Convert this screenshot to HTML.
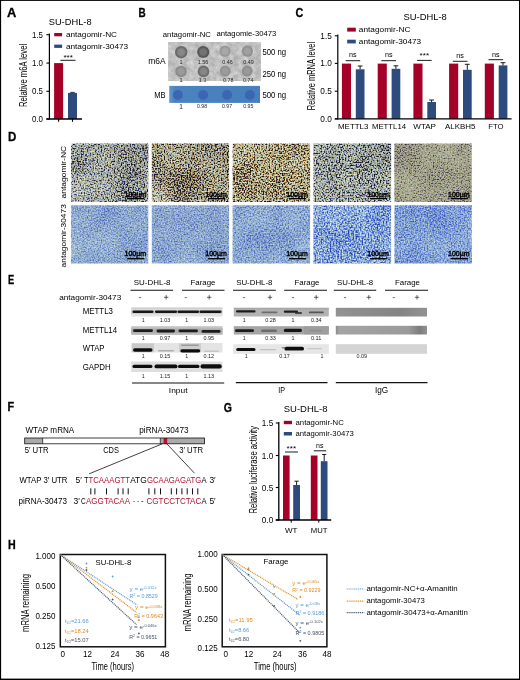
<!DOCTYPE html>
<html><head><meta charset="utf-8"><title>Figure</title>
<style>
html,body{margin:0;padding:0;background:#fff;}
body{width:520px;height:680px;overflow:hidden;}
svg{display:block;font-family:"Liberation Sans",sans-serif;}
</style></head><body>
<svg width="520" height="680" viewBox="0 0 520 680">
<defs>
<filter id="bl" x="-20%" y="-80%" width="140%" height="260%"><feGaussianBlur stdDeviation="0.75"/></filter>
<filter id="bl2" x="-20%" y="-50%" width="140%" height="200%"><feGaussianBlur stdDeviation="1.1"/></filter>
<filter id="dotb" x="-30%" y="-30%" width="160%" height="160%"><feGaussianBlur stdDeviation="0.7"/></filter>
</defs>
<rect x="0.0" y="0.0" width="520.0" height="680.0" fill="#fff"/>
<rect x="0.0" y="0.0" width="1.1" height="680.0" fill="#000"/>
<rect x="0.0" y="0.0" width="520.0" height="0.9" fill="#000"/>
<rect x="519.0" y="0.0" width="1.0" height="680.0" fill="#000"/>
<rect x="0.0" y="678.6" width="520.0" height="1.4" fill="#000"/>
<text x="6.9" y="17.0" font-size="12.1" textLength="9.3" lengthAdjust="spacingAndGlyphs" fill="#000" font-weight="bold" stroke="#000" stroke-width="0.3">A</text>
<text x="48.7" y="24.7" font-size="9.2" textLength="42.9" lengthAdjust="spacingAndGlyphs">SU-DHL-8</text>
<rect x="54.1" y="63.1" width="9.0" height="55.9" fill="#a50028"/>
<rect x="68.0" y="92.9" width="9.0" height="26.1" fill="#2d4b7d"/>
<line x1="70.3" y1="92.4" x2="74.7" y2="92.4" stroke="#121826" stroke-width="0.9"/>
<line x1="49.4" y1="33.5" x2="49.4" y2="119.6" stroke="#000" stroke-width="1.2"/>
<line x1="46.4" y1="119.0" x2="82.0" y2="119.0" stroke="#000" stroke-width="1.3"/>
<line x1="46.4" y1="34.7" x2="49.4" y2="34.7" stroke="#000" stroke-width="1.1"/>
<text x="32.0" y="37.6" font-size="8.3" textLength="11.0" lengthAdjust="spacingAndGlyphs">1.5</text>
<line x1="46.4" y1="63.1" x2="49.4" y2="63.1" stroke="#000" stroke-width="1.1"/>
<text x="32.0" y="66.0" font-size="8.3" textLength="11.0" lengthAdjust="spacingAndGlyphs">1.0</text>
<line x1="46.4" y1="91.3" x2="49.4" y2="91.3" stroke="#000" stroke-width="1.1"/>
<text x="32.0" y="94.2" font-size="8.3" textLength="11.0" lengthAdjust="spacingAndGlyphs">0.5</text>
<line x1="46.4" y1="119.0" x2="49.4" y2="119.0" stroke="#000" stroke-width="1.1"/>
<text x="32.0" y="121.9" font-size="8.3" textLength="11.0" lengthAdjust="spacingAndGlyphs">0.0</text>
<line x1="58.6" y1="119.0" x2="58.6" y2="121.8" stroke="#000" stroke-width="1.1"/>
<line x1="72.5" y1="119.0" x2="72.5" y2="121.8" stroke="#000" stroke-width="1.1"/>
<rect x="54.2" y="33.0" width="7.9" height="3.3" fill="#a50028"/>
<rect x="54.2" y="44.6" width="7.9" height="3.3" fill="#2d4b7d"/>
<text x="65.9" y="37.3" font-size="8" textLength="51.1" lengthAdjust="spacingAndGlyphs">antagomir-NC</text>
<text x="65.9" y="48.8" font-size="8" textLength="62.3" lengthAdjust="spacingAndGlyphs">antagomir-30473</text>
<text x="63.4" y="60.2" font-size="8" textLength="9.5" lengthAdjust="spacingAndGlyphs">***</text>
<line x1="60.4" y1="60.3" x2="75.5" y2="60.3" stroke="#000" stroke-width="0.9"/>
<text transform="translate(27.0,107.0) rotate(-90)" font-size="10" textLength="63.1" lengthAdjust="spacingAndGlyphs">Relative m6A level</text>
<text x="138.4" y="17.0" font-size="12.1" textLength="7.2" lengthAdjust="spacingAndGlyphs" fill="#000" font-weight="bold" stroke="#000" stroke-width="0.3">B</text>
<text x="162.8" y="37.3" font-size="7.8" textLength="48.1" lengthAdjust="spacingAndGlyphs">antagomir-NC</text>
<text x="216.4" y="36.1" font-size="7.4" textLength="59.9" lengthAdjust="spacingAndGlyphs">antagomie-30473</text>
<text x="148.2" y="63.8" font-size="8.6" textLength="17.4" lengthAdjust="spacingAndGlyphs">m6A</text>
<text x="154.3" y="97.7" font-size="8.6" textLength="11.3" lengthAdjust="spacingAndGlyphs">MB</text>
<text x="262.4" y="55.2" font-size="8.5" textLength="23.6" lengthAdjust="spacingAndGlyphs">500 ng</text>
<text x="262.4" y="76.9" font-size="8.5" textLength="23.6" lengthAdjust="spacingAndGlyphs">250 ng</text>
<text x="262.4" y="98.2" font-size="8.5" textLength="23.8" lengthAdjust="spacingAndGlyphs">500 ng</text>
<defs>
<filter id="mott" x="0" y="0" width="100%" height="100%" color-interpolation-filters="sRGB">
<feTurbulence type="fractalNoise" baseFrequency="0.18" numOctaves="3" seed="21"/>
<feColorMatrix type="matrix" values="0.26 0 0 0 0.625  0.26 0 0 0 0.625  0.26 0 0 0 0.625  0 0 0 0 1"/>
</filter>
</defs>
<rect x="168.9" y="42.0" width="91.3" height="38.9" fill="#c8c8c8" filter="url(#mott)"/>
<defs><radialGradient id="dg0"><stop offset="0" stop-color="#878787"/><stop offset="0.5" stop-color="#878787"/><stop offset="0.8" stop-color="#6a6a6a"/><stop offset="1" stop-color="#6a6a6a"/></radialGradient></defs>
<circle cx="181.2" cy="52.2" r="6.2" fill="url(#dg0)" filter="url(#dotb)"/>
<defs><radialGradient id="dg1"><stop offset="0" stop-color="#737373"/><stop offset="0.5" stop-color="#737373"/><stop offset="0.8" stop-color="#565656"/><stop offset="1" stop-color="#565656"/></radialGradient></defs>
<circle cx="203.2" cy="52" r="6.1" fill="url(#dg1)" filter="url(#dotb)"/>
<defs><radialGradient id="dg2"><stop offset="0" stop-color="#a8a8a8"/><stop offset="0.5" stop-color="#a8a8a8"/><stop offset="0.8" stop-color="#979797"/><stop offset="1" stop-color="#979797"/></radialGradient></defs>
<circle cx="225" cy="51.2" r="5.6" fill="url(#dg2)" filter="url(#dotb)"/>
<defs><radialGradient id="dg3"><stop offset="0" stop-color="#a0a0a0"/><stop offset="0.5" stop-color="#a0a0a0"/><stop offset="0.8" stop-color="#8f8f8f"/><stop offset="1" stop-color="#8f8f8f"/></radialGradient></defs>
<circle cx="247.4" cy="51.2" r="5.6" fill="url(#dg3)" filter="url(#dotb)"/>
<defs><radialGradient id="dg4"><stop offset="0" stop-color="#9a9a9a"/><stop offset="0.5" stop-color="#9a9a9a"/><stop offset="0.8" stop-color="#8a8a8a"/><stop offset="1" stop-color="#8a8a8a"/></radialGradient></defs>
<circle cx="181" cy="71.4" r="5.7" fill="url(#dg4)" filter="url(#dotb)"/>
<defs><radialGradient id="dg5"><stop offset="0" stop-color="#868686"/><stop offset="0.5" stop-color="#868686"/><stop offset="0.8" stop-color="#6c6c6c"/><stop offset="1" stop-color="#6c6c6c"/></radialGradient></defs>
<circle cx="203.5" cy="71.4" r="5.8" fill="url(#dg5)" filter="url(#dotb)"/>
<defs><radialGradient id="dg6"><stop offset="0" stop-color="#9c9c9c"/><stop offset="0.5" stop-color="#9c9c9c"/><stop offset="0.8" stop-color="#909090"/><stop offset="1" stop-color="#909090"/></radialGradient></defs>
<circle cx="225.2" cy="71" r="5.4" fill="url(#dg6)" filter="url(#dotb)"/>
<defs><radialGradient id="dg7"><stop offset="0" stop-color="#999"/><stop offset="0.5" stop-color="#999"/><stop offset="0.8" stop-color="#8c8c8c"/><stop offset="1" stop-color="#8c8c8c"/></radialGradient></defs>
<circle cx="247.2" cy="71" r="5.4" fill="url(#dg7)" filter="url(#dotb)"/>
<text x="181.0" y="63.9" font-size="5.6" fill="#222" text-anchor="middle">1</text>
<text x="197.7" y="63.9" font-size="5.6" textLength="10.6" lengthAdjust="spacingAndGlyphs" fill="#222">1.56</text>
<text x="222.3" y="63.9" font-size="5.6" textLength="10.5" lengthAdjust="spacingAndGlyphs" fill="#222">0.46</text>
<text x="243.2" y="63.9" font-size="5.6" textLength="10.6" lengthAdjust="spacingAndGlyphs" fill="#222">0.49</text>
<text x="181.0" y="81.9" font-size="5.6" fill="#222" text-anchor="middle">1</text>
<text x="198.8" y="81.9" font-size="5.6" textLength="7.4" lengthAdjust="spacingAndGlyphs" fill="#222">1.3</text>
<text x="223.1" y="81.9" font-size="5.6" textLength="10.5" lengthAdjust="spacingAndGlyphs" fill="#222">0.78</text>
<text x="243.1" y="81.9" font-size="5.6" textLength="10.2" lengthAdjust="spacingAndGlyphs" fill="#222">0.74</text>
<defs><linearGradient id="mbg" x1="0" x2="1" y1="0" y2="0"><stop offset="0" stop-color="#6298d2"/><stop offset="0.06" stop-color="#4a84c0"/><stop offset="1" stop-color="#467fbc"/></linearGradient></defs>
<rect x="169.2" y="85.9" width="90.8" height="17.0" fill="url(#mbg)"/>
<circle cx="177.8" cy="95" r="5" fill="#3a66b2" filter="url(#dotb)"/>
<circle cx="203.1" cy="95" r="5" fill="#3a66b2" filter="url(#dotb)"/>
<circle cx="227.1" cy="95" r="5" fill="#3a66b2" filter="url(#dotb)"/>
<circle cx="249.8" cy="95" r="5" fill="#3a66b2" filter="url(#dotb)"/>
<text x="181.0" y="108.6" font-size="6.5" fill="#222" text-anchor="middle">1</text>
<text x="197.0" y="108.2" font-size="5" textLength="10.0" lengthAdjust="spacingAndGlyphs" fill="#222">0.98</text>
<text x="222.0" y="108.2" font-size="5" textLength="10.0" lengthAdjust="spacingAndGlyphs" fill="#222">0.97</text>
<text x="243.3" y="108.2" font-size="5" textLength="10.0" lengthAdjust="spacingAndGlyphs" fill="#222">0.95</text>
<text x="295.5" y="17.1" font-size="12.1" textLength="7.8" lengthAdjust="spacingAndGlyphs" fill="#000" font-weight="bold" stroke="#000" stroke-width="0.3">C</text>
<text x="403.5" y="19.6" font-size="9" textLength="43.3" lengthAdjust="spacingAndGlyphs">SU-DHL-8</text>
<line x1="334.8" y1="35.8" x2="337.8" y2="35.8" stroke="#000" stroke-width="1.1"/>
<text x="320.3" y="38.7" font-size="8.3" textLength="11.5" lengthAdjust="spacingAndGlyphs">1.5</text>
<line x1="334.8" y1="63.4" x2="337.8" y2="63.4" stroke="#000" stroke-width="1.1"/>
<text x="320.3" y="66.3" font-size="8.3" textLength="11.5" lengthAdjust="spacingAndGlyphs">1.0</text>
<line x1="334.8" y1="91.2" x2="337.8" y2="91.2" stroke="#000" stroke-width="1.1"/>
<text x="320.3" y="94.1" font-size="8.3" textLength="11.5" lengthAdjust="spacingAndGlyphs">0.5</text>
<line x1="334.8" y1="118.8" x2="337.8" y2="118.8" stroke="#000" stroke-width="1.1"/>
<text x="320.3" y="121.7" font-size="8.3" textLength="11.5" lengthAdjust="spacingAndGlyphs">0.0</text>
<rect x="347.2" y="27.7" width="8.6" height="3.9" fill="#a50028"/>
<rect x="347.2" y="39.7" width="8.6" height="3.7" fill="#2d4b7d"/>
<text x="358.8" y="32.2" font-size="8" textLength="51.6" lengthAdjust="spacingAndGlyphs">antagomir-NC</text>
<text x="358.8" y="44.2" font-size="8" textLength="62.4" lengthAdjust="spacingAndGlyphs">antagomir-30473</text>
<rect x="341.9" y="63.6" width="9.1" height="55.2" fill="#a50028"/>
<rect x="355.8" y="69.3" width="8.7" height="49.5" fill="#2d4b7d"/>
<line x1="360.1" y1="66.0" x2="360.1" y2="69.3" stroke="#121826" stroke-width="1"/>
<line x1="357.7" y1="66.0" x2="362.5" y2="66.0" stroke="#121826" stroke-width="1"/>
<text x="349.1" y="57.4" font-size="7.2" textLength="7.6" lengthAdjust="spacingAndGlyphs">ns</text>
<line x1="345.6" y1="60.7" x2="360.2" y2="60.7" stroke="#000" stroke-width="0.9"/>
<text x="338.0" y="129.3" font-size="7.8" textLength="30.4" lengthAdjust="spacingAndGlyphs">METTL3</text>
<rect x="377.7" y="63.6" width="9.1" height="55.2" fill="#a50028"/>
<rect x="391.6" y="68.8" width="8.7" height="50.0" fill="#2d4b7d"/>
<line x1="395.9" y1="65.8" x2="395.9" y2="68.8" stroke="#121826" stroke-width="1"/>
<line x1="393.5" y1="65.8" x2="398.3" y2="65.8" stroke="#121826" stroke-width="1"/>
<text x="384.9" y="57.4" font-size="7.2" textLength="7.6" lengthAdjust="spacingAndGlyphs">ns</text>
<line x1="381.4" y1="60.7" x2="396.0" y2="60.7" stroke="#000" stroke-width="0.9"/>
<text x="372.0" y="129.3" font-size="7.8" textLength="34.0" lengthAdjust="spacingAndGlyphs">METTL14</text>
<rect x="413.4" y="63.6" width="9.1" height="55.2" fill="#a50028"/>
<rect x="427.3" y="102.0" width="8.7" height="16.8" fill="#2d4b7d"/>
<line x1="431.6" y1="100.0" x2="431.6" y2="102.0" stroke="#121826" stroke-width="1"/>
<line x1="429.2" y1="100.0" x2="434.0" y2="100.0" stroke="#121826" stroke-width="1"/>
<text x="419.6" y="58.2" font-size="8" textLength="9.5" lengthAdjust="spacingAndGlyphs">***</text>
<line x1="417.1" y1="60.4" x2="431.7" y2="60.4" stroke="#000" stroke-width="0.9"/>
<text x="413.3" y="129.3" font-size="7.8" textLength="22.7" lengthAdjust="spacingAndGlyphs">WTAP</text>
<rect x="449.1" y="63.6" width="9.1" height="55.2" fill="#a50028"/>
<rect x="463.0" y="69.8" width="8.7" height="49.0" fill="#2d4b7d"/>
<line x1="467.3" y1="64.3" x2="467.3" y2="69.8" stroke="#121826" stroke-width="1"/>
<line x1="464.9" y1="64.3" x2="469.7" y2="64.3" stroke="#121826" stroke-width="1"/>
<text x="456.3" y="58.0" font-size="7.2" textLength="7.6" lengthAdjust="spacingAndGlyphs">ns</text>
<line x1="452.8" y1="61.3" x2="467.4" y2="61.3" stroke="#000" stroke-width="0.9"/>
<text x="445.0" y="129.3" font-size="7.8" textLength="30.4" lengthAdjust="spacingAndGlyphs">ALKBH5</text>
<rect x="484.8" y="63.6" width="9.1" height="55.2" fill="#a50028"/>
<rect x="498.7" y="65.4" width="8.7" height="53.4" fill="#2d4b7d"/>
<line x1="503.0" y1="62.7" x2="503.0" y2="65.4" stroke="#121826" stroke-width="1"/>
<line x1="500.6" y1="62.7" x2="505.4" y2="62.7" stroke="#121826" stroke-width="1"/>
<text x="492.0" y="56.6" font-size="7.2" textLength="7.6" lengthAdjust="spacingAndGlyphs">ns</text>
<line x1="488.5" y1="59.7" x2="503.1" y2="59.7" stroke="#000" stroke-width="0.9"/>
<text x="488.2" y="129.3" font-size="7.8" textLength="15.3" lengthAdjust="spacingAndGlyphs">FTO</text>
<text transform="translate(315.0,110.3) rotate(-90)" font-size="10" textLength="68.5" lengthAdjust="spacingAndGlyphs">Relative mRNA level</text>
<line x1="337.8" y1="34.6" x2="337.8" y2="119.4" stroke="#000" stroke-width="1.2"/>
<line x1="334.8" y1="118.8" x2="511.6" y2="118.8" stroke="#000" stroke-width="1.3"/>
<text x="7.9" y="140.8" font-size="12.1" textLength="8.3" lengthAdjust="spacingAndGlyphs" fill="#000" font-weight="bold" stroke="#000" stroke-width="0.3">D</text>
<text transform="translate(66.4,198.4) rotate(-90)" font-size="7.6" textLength="52.5" lengthAdjust="spacingAndGlyphs">antagomir-NC</text>
<text transform="translate(66.4,267.4) rotate(-90)" font-size="7.6" textLength="63.2" lengthAdjust="spacingAndGlyphs">antagomir-30473</text>
<defs><filter id="m00" x="0" y="0" width="100%" height="100%" color-interpolation-filters="sRGB">
<feTurbulence type="fractalNoise" baseFrequency="0.7" numOctaves="1" seed="3" result="t"/>
<feTurbulence type="fractalNoise" baseFrequency="0.035" numOctaves="2" seed="53" result="lo"/>
<feColorMatrix in="lo" type="matrix" values="0.375 0 0 0 0.312  0.375 0 0 0 0.312  0.375 0 0 0 0.312  0 0 0 0 1" result="lo2"/>
<feColorMatrix in="t" type="matrix" values="1.9 0 0 0 -0.480  1.9 0 0 0 -0.480  1.9 0 0 0 -0.480  0 0 0 0 1" result="g"/>
<feComposite in="g" in2="lo2" operator="arithmetic" k1="0" k2="1" k3="1" k4="-0.5" result="g2"/>
<feComponentTransfer in="g2" result="c1">
<feFuncR type="table" tableValues="0.086 0.157 0.345 0.620 0.722 0.796 0.859 0.910"/>
<feFuncG type="table" tableValues="0.071 0.133 0.345 0.635 0.753 0.839 0.902 0.941"/>
<feFuncB type="table" tableValues="0.141 0.204 0.447 0.576 0.698 0.784 0.847 0.894"/>
</feComponentTransfer>
<feColorMatrix in="t" type="matrix" values="0 -0.380 0 0 0.690  0 -0.152 0 0 0.576  0 0.418 0 0 0.291  0 0 0 0 1" result="ti"/>
<feComposite in="c1" in2="ti" operator="arithmetic" k1="0" k2="1" k3="1" k4="-0.5" result="c2"/>
<feGaussianBlur in="c2" stdDeviation="0.5"/>
</filter><filter id="m01" x="0" y="0" width="100%" height="100%" color-interpolation-filters="sRGB">
<feTurbulence type="fractalNoise" baseFrequency="0.7" numOctaves="1" seed="4" result="t"/>
<feTurbulence type="fractalNoise" baseFrequency="0.035" numOctaves="2" seed="54" result="lo"/>
<feColorMatrix in="lo" type="matrix" values="0.375 0 0 0 0.312  0.375 0 0 0 0.312  0.375 0 0 0 0.312  0 0 0 0 1" result="lo2"/>
<feColorMatrix in="t" type="matrix" values="2.0 0 0 0 -0.550  2.0 0 0 0 -0.550  2.0 0 0 0 -0.550  0 0 0 0 1" result="g"/>
<feComposite in="g" in2="lo2" operator="arithmetic" k1="0" k2="1" k3="1" k4="-0.5" result="g2"/>
<feComponentTransfer in="g2" result="c1">
<feFuncR type="table" tableValues="0.094 0.157 0.420 0.635 0.737 0.812 0.871 0.918"/>
<feFuncG type="table" tableValues="0.063 0.110 0.298 0.620 0.753 0.839 0.902 0.941"/>
<feFuncB type="table" tableValues="0.102 0.133 0.196 0.510 0.659 0.753 0.824 0.875"/>
</feComponentTransfer>
<feColorMatrix in="t" type="matrix" values="0 -0.400 0 0 0.700  0 -0.160 0 0 0.580  0 0.440 0 0 0.280  0 0 0 0 1" result="ti"/>
<feComposite in="c1" in2="ti" operator="arithmetic" k1="0" k2="1" k3="1" k4="-0.5" result="c2"/>
<feGaussianBlur in="c2" stdDeviation="0.5"/>
</filter><filter id="m02" x="0" y="0" width="100%" height="100%" color-interpolation-filters="sRGB">
<feTurbulence type="fractalNoise" baseFrequency="0.68" numOctaves="1" seed="8" result="t"/>
<feTurbulence type="fractalNoise" baseFrequency="0.035" numOctaves="2" seed="58" result="lo"/>
<feColorMatrix in="lo" type="matrix" values="0.375 0 0 0 0.312  0.375 0 0 0 0.312  0.375 0 0 0 0.312  0 0 0 0 1" result="lo2"/>
<feColorMatrix in="t" type="matrix" values="1.9 0 0 0 -0.490  1.9 0 0 0 -0.490  1.9 0 0 0 -0.490  0 0 0 0 1" result="g"/>
<feComposite in="g" in2="lo2" operator="arithmetic" k1="0" k2="1" k3="1" k4="-0.5" result="g2"/>
<feComponentTransfer in="g2" result="c1">
<feFuncR type="table" tableValues="0.110 0.175 0.451 0.657 0.755 0.828 0.886 0.933"/>
<feFuncG type="table" tableValues="0.067 0.114 0.305 0.632 0.766 0.853 0.915 0.954"/>
<feFuncB type="table" tableValues="0.082 0.111 0.157 0.476 0.628 0.723 0.795 0.847"/>
</feComponentTransfer>
<feColorMatrix in="t" type="matrix" values="0 -0.380 0 0 0.690  0 -0.152 0 0 0.576  0 0.418 0 0 0.291  0 0 0 0 1" result="ti"/>
<feComposite in="c1" in2="ti" operator="arithmetic" k1="0" k2="1" k3="1" k4="-0.5" result="c2"/>
<feGaussianBlur in="c2" stdDeviation="0.5"/>
</filter><filter id="m03" x="0" y="0" width="100%" height="100%" color-interpolation-filters="sRGB">
<feTurbulence type="fractalNoise" baseFrequency="0.66" numOctaves="1" seed="12" result="t"/>
<feTurbulence type="fractalNoise" baseFrequency="0.035" numOctaves="2" seed="62" result="lo"/>
<feColorMatrix in="lo" type="matrix" values="0.375 0 0 0 0.312  0.375 0 0 0 0.312  0.375 0 0 0 0.312  0 0 0 0 1" result="lo2"/>
<feColorMatrix in="t" type="matrix" values="2.1 0 0 0 -0.580  2.1 0 0 0 -0.580  2.1 0 0 0 -0.580  0 0 0 0 1" result="g"/>
<feComposite in="g" in2="lo2" operator="arithmetic" k1="0" k2="1" k3="1" k4="-0.5" result="g2"/>
<feComponentTransfer in="g2" result="c1">
<feFuncR type="table" tableValues="0.086 0.157 0.345 0.620 0.722 0.796 0.859 0.910"/>
<feFuncG type="table" tableValues="0.078 0.141 0.353 0.643 0.761 0.847 0.910 0.949"/>
<feFuncB type="table" tableValues="0.149 0.212 0.455 0.584 0.706 0.792 0.855 0.902"/>
</feComponentTransfer>
<feColorMatrix in="t" type="matrix" values="0 -0.420 0 0 0.710  0 -0.168 0 0 0.584  0 0.462 0 0 0.269  0 0 0 0 1" result="ti"/>
<feComposite in="c1" in2="ti" operator="arithmetic" k1="0" k2="1" k3="1" k4="-0.5" result="c2"/>
<feGaussianBlur in="c2" stdDeviation="0.5"/>
</filter><filter id="m04" x="0" y="0" width="100%" height="100%" color-interpolation-filters="sRGB">
<feTurbulence type="fractalNoise" baseFrequency="0.72" numOctaves="1" seed="15" result="t"/>
<feTurbulence type="fractalNoise" baseFrequency="0.035" numOctaves="2" seed="65" result="lo"/>
<feColorMatrix in="lo" type="matrix" values="0.375 0 0 0 0.312  0.375 0 0 0 0.312  0.375 0 0 0 0.312  0 0 0 0 1" result="lo2"/>
<feColorMatrix in="t" type="matrix" values="1.7 0 0 0 -0.370  1.7 0 0 0 -0.370  1.7 0 0 0 -0.370  0 0 0 0 1" result="g"/>
<feComposite in="g" in2="lo2" operator="arithmetic" k1="0" k2="1" k3="1" k4="-0.5" result="g2"/>
<feComponentTransfer in="g2" result="c1">
<feFuncR type="table" tableValues="0.227 0.314 0.486 0.604 0.667 0.706 0.745 0.784"/>
<feFuncG type="table" tableValues="0.196 0.275 0.455 0.600 0.675 0.718 0.761 0.800"/>
<feFuncB type="table" tableValues="0.333 0.373 0.431 0.510 0.569 0.600 0.639 0.678"/>
</feComponentTransfer>
<feColorMatrix in="t" type="matrix" values="0 -0.136 0 0 0.568  0 -0.051 0 0 0.525  0 0.136 0 0 0.432  0 0 0 0 1" result="ti"/>
<feComposite in="c1" in2="ti" operator="arithmetic" k1="0" k2="1" k3="1" k4="-0.5" result="c2"/>
<feGaussianBlur in="c2" stdDeviation="0.5"/>
</filter><filter id="m10" x="0" y="0" width="100%" height="100%" color-interpolation-filters="sRGB">
<feTurbulence type="fractalNoise" baseFrequency="0.7" numOctaves="1" seed="5" result="t"/>
<feTurbulence type="fractalNoise" baseFrequency="0.035" numOctaves="2" seed="55" result="lo"/>
<feColorMatrix in="lo" type="matrix" values="0.375 0 0 0 0.312  0.375 0 0 0 0.312  0.375 0 0 0 0.312  0 0 0 0 1" result="lo2"/>
<feColorMatrix in="t" type="matrix" values="1.5 0 0 0 -0.250  1.5 0 0 0 -0.250  1.5 0 0 0 -0.250  0 0 0 0 1" result="g"/>
<feComposite in="g" in2="lo2" operator="arithmetic" k1="0" k2="1" k3="1" k4="-0.5" result="g2"/>
<feComponentTransfer in="g2" result="c1">
<feFuncR type="table" tableValues="0.252 0.327 0.421 0.514 0.596 0.670 0.736 0.792"/>
<feFuncG type="table" tableValues="0.339 0.425 0.526 0.626 0.708 0.768 0.820 0.858"/>
<feFuncB type="table" tableValues="0.692 0.732 0.773 0.804 0.826 0.837 0.840 0.850"/>
</feComponentTransfer>
<feColorMatrix in="t" type="matrix" values="0 0.120 0 0 0.440  0 0.090 0 0 0.455  0 -0.090 0 0 0.545  0 0 0 0 1" result="ti"/>
<feComposite in="c1" in2="ti" operator="arithmetic" k1="0" k2="1" k3="1" k4="-0.5" result="c2"/>
<feGaussianBlur in="c2" stdDeviation="0.5"/>
</filter><filter id="m11" x="0" y="0" width="100%" height="100%" color-interpolation-filters="sRGB">
<feTurbulence type="fractalNoise" baseFrequency="0.7" numOctaves="1" seed="6" result="t"/>
<feTurbulence type="fractalNoise" baseFrequency="0.035" numOctaves="2" seed="56" result="lo"/>
<feColorMatrix in="lo" type="matrix" values="0.375 0 0 0 0.312  0.375 0 0 0 0.312  0.375 0 0 0 0.312  0 0 0 0 1" result="lo2"/>
<feColorMatrix in="t" type="matrix" values="1.5 0 0 0 -0.250  1.5 0 0 0 -0.250  1.5 0 0 0 -0.250  0 0 0 0 1" result="g"/>
<feComposite in="g" in2="lo2" operator="arithmetic" k1="0" k2="1" k3="1" k4="-0.5" result="g2"/>
<feComponentTransfer in="g2" result="c1">
<feFuncR type="table" tableValues="0.244 0.319 0.413 0.506 0.588 0.662 0.728 0.784"/>
<feFuncG type="table" tableValues="0.331 0.417 0.518 0.618 0.700 0.760 0.812 0.850"/>
<feFuncB type="table" tableValues="0.692 0.732 0.773 0.804 0.826 0.837 0.840 0.850"/>
</feComponentTransfer>
<feColorMatrix in="t" type="matrix" values="0 0.120 0 0 0.440  0 0.090 0 0 0.455  0 -0.090 0 0 0.545  0 0 0 0 1" result="ti"/>
<feComposite in="c1" in2="ti" operator="arithmetic" k1="0" k2="1" k3="1" k4="-0.5" result="c2"/>
<feGaussianBlur in="c2" stdDeviation="0.5"/>
</filter><filter id="m12" x="0" y="0" width="100%" height="100%" color-interpolation-filters="sRGB">
<feTurbulence type="fractalNoise" baseFrequency="0.68" numOctaves="1" seed="9" result="t"/>
<feTurbulence type="fractalNoise" baseFrequency="0.035" numOctaves="2" seed="59" result="lo"/>
<feColorMatrix in="lo" type="matrix" values="0.375 0 0 0 0.312  0.375 0 0 0 0.312  0.375 0 0 0 0.312  0 0 0 0 1" result="lo2"/>
<feColorMatrix in="t" type="matrix" values="1.6 0 0 0 -0.300  1.6 0 0 0 -0.300  1.6 0 0 0 -0.300  0 0 0 0 1" result="g"/>
<feComposite in="g" in2="lo2" operator="arithmetic" k1="0" k2="1" k3="1" k4="-0.5" result="g2"/>
<feComponentTransfer in="g2" result="c1">
<feFuncR type="table" tableValues="0.244 0.319 0.413 0.506 0.588 0.662 0.728 0.784"/>
<feFuncG type="table" tableValues="0.335 0.421 0.522 0.622 0.704 0.764 0.816 0.854"/>
<feFuncB type="table" tableValues="0.700 0.740 0.781 0.812 0.834 0.845 0.848 0.858"/>
</feComponentTransfer>
<feColorMatrix in="t" type="matrix" values="0 0.128 0 0 0.436  0 0.096 0 0 0.452  0 -0.096 0 0 0.548  0 0 0 0 1" result="ti"/>
<feComposite in="c1" in2="ti" operator="arithmetic" k1="0" k2="1" k3="1" k4="-0.5" result="c2"/>
<feGaussianBlur in="c2" stdDeviation="0.5"/>
</filter><filter id="m13" x="0" y="0" width="100%" height="100%" color-interpolation-filters="sRGB">
<feTurbulence type="fractalNoise" baseFrequency="0.66" numOctaves="1" seed="13" result="t"/>
<feTurbulence type="fractalNoise" baseFrequency="0.035" numOctaves="2" seed="63" result="lo"/>
<feColorMatrix in="lo" type="matrix" values="0.375 0 0 0 0.312  0.375 0 0 0 0.312  0.375 0 0 0 0.312  0 0 0 0 1" result="lo2"/>
<feColorMatrix in="t" type="matrix" values="2.2 0 0 0 -0.600  2.2 0 0 0 -0.600  2.2 0 0 0 -0.600  0 0 0 0 1" result="g"/>
<feComposite in="g" in2="lo2" operator="arithmetic" k1="0" k2="1" k3="1" k4="-0.5" result="g2"/>
<feComponentTransfer in="g2" result="c1">
<feFuncR type="table" tableValues="0.154 0.231 0.338 0.453 0.576 0.692 0.776 0.838"/>
<feFuncG type="table" tableValues="0.250 0.338 0.461 0.584 0.707 0.799 0.861 0.899"/>
<feFuncB type="table" tableValues="0.723 0.761 0.799 0.830 0.861 0.884 0.899 0.915"/>
</feComponentTransfer>
<feColorMatrix in="t" type="matrix" values="0 0.176 0 0 0.412  0 0.132 0 0 0.434  0 -0.132 0 0 0.566  0 0 0 0 1" result="ti"/>
<feComposite in="c1" in2="ti" operator="arithmetic" k1="0" k2="1" k3="1" k4="-0.5" result="c2"/>
<feGaussianBlur in="c2" stdDeviation="0.5"/>
</filter><filter id="m14" x="0" y="0" width="100%" height="100%" color-interpolation-filters="sRGB">
<feTurbulence type="fractalNoise" baseFrequency="0.7" numOctaves="1" seed="17" result="t"/>
<feTurbulence type="fractalNoise" baseFrequency="0.035" numOctaves="2" seed="67" result="lo"/>
<feColorMatrix in="lo" type="matrix" values="0.375 0 0 0 0.312  0.375 0 0 0 0.312  0.375 0 0 0 0.312  0 0 0 0 1" result="lo2"/>
<feColorMatrix in="t" type="matrix" values="1.8 0 0 0 -0.420  1.8 0 0 0 -0.420  1.8 0 0 0 -0.420  0 0 0 0 1" result="g"/>
<feComposite in="g" in2="lo2" operator="arithmetic" k1="0" k2="1" k3="1" k4="-0.5" result="g2"/>
<feComponentTransfer in="g2" result="c1">
<feFuncR type="table" tableValues="0.211 0.287 0.383 0.479 0.564 0.641 0.711 0.770"/>
<feFuncG type="table" tableValues="0.307 0.395 0.499 0.603 0.688 0.749 0.803 0.842"/>
<feFuncB type="table" tableValues="0.738 0.774 0.810 0.834 0.851 0.857 0.855 0.861"/>
</feComponentTransfer>
<feColorMatrix in="t" type="matrix" values="0 0.144 0 0 0.428  0 0.108 0 0 0.446  0 -0.108 0 0 0.554  0 0 0 0 1" result="ti"/>
<feComposite in="c1" in2="ti" operator="arithmetic" k1="0" k2="1" k3="1" k4="-0.5" result="c2"/>
<feGaussianBlur in="c2" stdDeviation="0.5"/>
</filter></defs>
<clipPath id="cp00"><rect x="71.1" y="143.6" width="77.20" height="58.40"/></clipPath>
<g clip-path="url(#cp00)">
<rect x="71.0" y="143.0" width="78.0" height="59.0" fill="#888" filter="url(#m00)"/>
</g>
<line x1="127.2" y1="198.6" x2="144.4" y2="198.6" stroke="#000" stroke-width="1.3"/>
<text x="124.5" y="196.7" font-size="7.3" textLength="21.5" lengthAdjust="spacingAndGlyphs" fill="#000" stroke="#000" stroke-width="0.4">100µm</text>
<clipPath id="cp01"><rect x="151.8" y="143.6" width="77.30" height="58.40"/></clipPath>
<g clip-path="url(#cp01)">
<rect x="151.0" y="143.0" width="79.0" height="59.0" fill="#888" filter="url(#m01)"/>
</g>
<line x1="208.0" y1="198.6" x2="225.2" y2="198.6" stroke="#000" stroke-width="1.3"/>
<text x="205.3" y="196.7" font-size="7.3" textLength="21.5" lengthAdjust="spacingAndGlyphs" fill="#000" stroke="#000" stroke-width="0.4">100µm</text>
<clipPath id="cp02"><rect x="232.6" y="143.6" width="77.50" height="58.40"/></clipPath>
<g clip-path="url(#cp02)">
<rect x="232.0" y="143.0" width="79.0" height="59.0" fill="#888" filter="url(#m02)"/>
</g>
<line x1="289.0" y1="198.6" x2="306.2" y2="198.6" stroke="#000" stroke-width="1.3"/>
<text x="286.3" y="196.7" font-size="7.3" textLength="21.5" lengthAdjust="spacingAndGlyphs" fill="#000" stroke="#000" stroke-width="0.4">100µm</text>
<clipPath id="cp03"><rect x="313.4" y="143.6" width="77.70" height="58.40"/></clipPath>
<g clip-path="url(#cp03)">
<rect x="313.0" y="143.0" width="79.0" height="59.0" fill="#888" filter="url(#m03)"/>
</g>
<line x1="370.0" y1="198.6" x2="387.2" y2="198.6" stroke="#000" stroke-width="1.3"/>
<text x="367.3" y="196.7" font-size="7.3" textLength="21.5" lengthAdjust="spacingAndGlyphs" fill="#000" stroke="#000" stroke-width="0.4">100µm</text>
<clipPath id="cp04"><rect x="394.4" y="143.6" width="77.40" height="58.40"/></clipPath>
<g clip-path="url(#cp04)">
<rect x="394.0" y="143.0" width="78.0" height="59.0" fill="#888" filter="url(#m04)"/>
</g>
<line x1="450.7" y1="198.6" x2="467.9" y2="198.6" stroke="#000" stroke-width="1.3"/>
<text x="448.0" y="196.7" font-size="7.3" textLength="21.5" lengthAdjust="spacingAndGlyphs" fill="#000" stroke="#000" stroke-width="0.4">100µm</text>
<clipPath id="cp10"><rect x="71.1" y="205.3" width="77.20" height="58.30"/></clipPath>
<g clip-path="url(#cp10)">
<rect x="71.0" y="205.0" width="78.0" height="59.0" fill="#888" filter="url(#m10)"/>
</g>
<line x1="127.2" y1="258.7" x2="144.4" y2="258.7" stroke="#000" stroke-width="1.3"/>
<text x="124.5" y="255.6" font-size="7.3" textLength="21.5" lengthAdjust="spacingAndGlyphs" fill="#000" stroke="#000" stroke-width="0.4">100µm</text>
<clipPath id="cp11"><rect x="151.8" y="205.3" width="77.30" height="58.30"/></clipPath>
<g clip-path="url(#cp11)">
<rect x="151.0" y="205.0" width="79.0" height="59.0" fill="#888" filter="url(#m11)"/>
</g>
<line x1="208.0" y1="258.7" x2="225.2" y2="258.7" stroke="#000" stroke-width="1.3"/>
<text x="205.3" y="255.6" font-size="7.3" textLength="21.5" lengthAdjust="spacingAndGlyphs" fill="#000" stroke="#000" stroke-width="0.4">100µm</text>
<clipPath id="cp12"><rect x="232.6" y="205.3" width="77.50" height="58.30"/></clipPath>
<g clip-path="url(#cp12)">
<rect x="232.0" y="205.0" width="79.0" height="59.0" fill="#888" filter="url(#m12)"/>
</g>
<line x1="289.0" y1="258.7" x2="306.2" y2="258.7" stroke="#000" stroke-width="1.3"/>
<text x="286.3" y="255.6" font-size="7.3" textLength="21.5" lengthAdjust="spacingAndGlyphs" fill="#000" stroke="#000" stroke-width="0.4">100µm</text>
<clipPath id="cp13"><rect x="313.4" y="205.3" width="77.70" height="58.30"/></clipPath>
<g clip-path="url(#cp13)">
<rect x="313.0" y="205.0" width="79.0" height="59.0" fill="#888" filter="url(#m13)"/>
</g>
<line x1="370.0" y1="258.7" x2="387.2" y2="258.7" stroke="#000" stroke-width="1.3"/>
<text x="367.3" y="255.6" font-size="7.3" textLength="21.5" lengthAdjust="spacingAndGlyphs" fill="#000" stroke="#000" stroke-width="0.4">100µm</text>
<clipPath id="cp14"><rect x="394.4" y="205.3" width="77.40" height="58.30"/></clipPath>
<g clip-path="url(#cp14)">
<rect x="394.0" y="205.0" width="78.0" height="59.0" fill="#888" filter="url(#m14)"/>
</g>
<line x1="450.7" y1="258.7" x2="467.9" y2="258.7" stroke="#000" stroke-width="1.3"/>
<text x="448.0" y="255.6" font-size="7.3" textLength="21.5" lengthAdjust="spacingAndGlyphs" fill="#000" stroke="#000" stroke-width="0.4">100µm</text>
<defs><linearGradient id="ov1" x1="1" y1="0" x2="0" y2="1"><stop offset="0" stop-color="#000" stop-opacity="0.10"/><stop offset="0.5" stop-color="#000" stop-opacity="0.04"/><stop offset="1" stop-color="#fff" stop-opacity="0.14"/></linearGradient></defs>
<rect x="71.1" y="143.6" width="77.2" height="58.4" fill="url(#ov1)"/>
<rect x="151.8" y="143.6" width="77.3" height="58.4" fill="url(#ov1)"/>
<rect x="313.4" y="143.6" width="77.7" height="58.4" fill="url(#ov1)"/>
<text x="7.9" y="284.1" font-size="12.1" textLength="6.2" lengthAdjust="spacingAndGlyphs" fill="#000" font-weight="bold" stroke="#000" stroke-width="0.3">E</text>
<text x="59.2" y="299.5" font-size="8" textLength="62.0" lengthAdjust="spacingAndGlyphs">antagomir-30473</text>
<text x="82.7" y="313.9" font-size="8.6" textLength="30.3" lengthAdjust="spacingAndGlyphs">METTL3</text>
<text x="82.7" y="332.9" font-size="8.6" textLength="34.3" lengthAdjust="spacingAndGlyphs">METTL14</text>
<text x="82.7" y="351.4" font-size="8.6" textLength="21.8" lengthAdjust="spacingAndGlyphs">WTAP</text>
<text x="82.7" y="370.2" font-size="8.6" textLength="28.1" lengthAdjust="spacingAndGlyphs">GAPDH</text>
<text x="133.8" y="285.2" font-size="8" textLength="36.7" lengthAdjust="spacingAndGlyphs">SU-DHL-8</text>
<line x1="130.5" y1="290.2" x2="173.0" y2="290.2" stroke="#111" stroke-width="1.1"/>
<text x="190.5" y="285.2" font-size="8" textLength="25.0" lengthAdjust="spacingAndGlyphs">Farage</text>
<line x1="182.0" y1="290.2" x2="224.5" y2="290.2" stroke="#111" stroke-width="1.1"/>
<text x="236.2" y="285.2" font-size="8" textLength="36.3" lengthAdjust="spacingAndGlyphs">SU-DHL-8</text>
<line x1="233.0" y1="290.2" x2="275.8" y2="290.2" stroke="#111" stroke-width="1.1"/>
<text x="294.5" y="285.2" font-size="8" textLength="25.0" lengthAdjust="spacingAndGlyphs">Farage</text>
<line x1="284.2" y1="290.2" x2="327.0" y2="290.2" stroke="#111" stroke-width="1.1"/>
<text x="337.0" y="285.2" font-size="8" textLength="36.2" lengthAdjust="spacingAndGlyphs">SU-DHL-8</text>
<line x1="333.8" y1="290.2" x2="376.2" y2="290.2" stroke="#111" stroke-width="1.1"/>
<text x="395.0" y="285.2" font-size="8" textLength="25.0" lengthAdjust="spacingAndGlyphs">Farage</text>
<line x1="385.0" y1="290.2" x2="428.0" y2="290.2" stroke="#111" stroke-width="1.1"/>
<line x1="138.9" y1="297.6" x2="141.1" y2="297.6" stroke="#333" stroke-width="0.7"/>
<line x1="164.0" y1="297.3" x2="168.4" y2="297.3" stroke="#222" stroke-width="0.7"/>
<line x1="166.2" y1="295.1" x2="166.2" y2="299.5" stroke="#222" stroke-width="0.7"/>
<line x1="184.7" y1="297.6" x2="186.9" y2="297.6" stroke="#333" stroke-width="0.7"/>
<line x1="207.0" y1="297.3" x2="211.4" y2="297.3" stroke="#222" stroke-width="0.7"/>
<line x1="209.2" y1="295.1" x2="209.2" y2="299.5" stroke="#222" stroke-width="0.7"/>
<line x1="243.1" y1="297.6" x2="245.3" y2="297.6" stroke="#333" stroke-width="0.7"/>
<line x1="267.8" y1="297.3" x2="272.2" y2="297.3" stroke="#222" stroke-width="0.7"/>
<line x1="270.0" y1="295.1" x2="270.0" y2="299.5" stroke="#222" stroke-width="0.7"/>
<line x1="291.9" y1="297.6" x2="294.1" y2="297.6" stroke="#333" stroke-width="0.7"/>
<line x1="314.0" y1="297.3" x2="318.4" y2="297.3" stroke="#222" stroke-width="0.7"/>
<line x1="316.2" y1="295.1" x2="316.2" y2="299.5" stroke="#222" stroke-width="0.7"/>
<line x1="343.9" y1="297.6" x2="346.1" y2="297.6" stroke="#333" stroke-width="0.7"/>
<line x1="366.6" y1="297.3" x2="371.0" y2="297.3" stroke="#222" stroke-width="0.7"/>
<line x1="368.8" y1="295.1" x2="368.8" y2="299.5" stroke="#222" stroke-width="0.7"/>
<line x1="392.7" y1="297.6" x2="394.9" y2="297.6" stroke="#333" stroke-width="0.7"/>
<line x1="414.8" y1="297.3" x2="419.2" y2="297.3" stroke="#222" stroke-width="0.7"/>
<line x1="417.0" y1="295.1" x2="417.0" y2="299.5" stroke="#222" stroke-width="0.7"/>
<rect x="131.2" y="307.8" width="91.3" height="8.7" fill="#e2e2e2"/>
<rect x="131.2" y="309.5" width="91.3" height="4.5" fill="#cfcfcf" filter="url(#bl)"/>
<line x1="131.2" y1="308.0" x2="222.5" y2="308.0" stroke="#999" stroke-width="0.5"/>
<rect x="132.5" y="310.4" width="21.0" height="2.5" rx="1.2" fill="#161616" opacity="1" filter="url(#bl)"/>
<rect x="155.0" y="310.4" width="22.0" height="2.5" rx="1.2" fill="#161616" opacity="1" filter="url(#bl)"/>
<rect x="177.5" y="310.4" width="21.5" height="2.5" rx="1.2" fill="#161616" opacity="1" filter="url(#bl)"/>
<rect x="199.5" y="310.4" width="22.0" height="2.5" rx="1.2" fill="#161616" opacity="1" filter="url(#bl)"/>
<rect x="131.2" y="326.2" width="91.3" height="8.8" fill="#c2c2c2"/>
<rect x="131.2" y="328.5" width="91.3" height="5.0" fill="#adadad" filter="url(#bl)"/>
<rect x="133.0" y="329.2" width="20.0" height="2.8" rx="1.4" fill="#1c1c1c" opacity="1" filter="url(#bl)"/>
<rect x="156.5" y="329.6" width="18.5" height="2.8" rx="1.4" fill="#1c1c1c" opacity="1" filter="url(#bl)"/>
<rect x="178.5" y="329.4" width="19.5" height="2.8" rx="1.4" fill="#1c1c1c" opacity="1" filter="url(#bl)"/>
<rect x="201.5" y="330.0" width="19.0" height="2.8" rx="1.4" fill="#1c1c1c" opacity="1" filter="url(#bl)"/>
<rect x="131.2" y="343.0" width="91.3" height="9.5" fill="#e4e4e4"/>
<rect x="132.0" y="343.4" width="22.0" height="8.8" fill="#c9c9c9" filter="url(#bl)"/>
<rect x="179.0" y="343.4" width="22.0" height="8.8" fill="#cdcdcd" filter="url(#bl)"/>
<rect x="133.0" y="348.2" width="19.5" height="3.6" rx="1.8" fill="#0c0c0c" opacity="1" filter="url(#bl)"/>
<rect x="158.0" y="350.0" width="16.0" height="1.6" rx="0.8" fill="#777" opacity="0.5" filter="url(#bl)"/>
<rect x="180.4" y="349.2" width="19.8" height="3.2" rx="1.6" fill="#0c0c0c" opacity="1" filter="url(#bl)"/>
<rect x="181.0" y="344.6" width="18.0" height="1.5" rx="0.8" fill="#777" opacity="0.6" filter="url(#bl)"/>
<rect x="204.0" y="350.5" width="15.0" height="1.4" rx="0.7" fill="#999" opacity="0.4" filter="url(#bl)"/>
<rect x="131.2" y="361.5" width="91.3" height="10.5" fill="#dedede"/>
<rect x="132.5" y="364.8" width="20.0" height="3.2" rx="1.6" fill="#0a0a0a" opacity="1" filter="url(#bl)"/>
<rect x="154.5" y="364.4" width="23.0" height="3.9" rx="1.9" fill="#0a0a0a" opacity="1" filter="url(#bl)"/>
<rect x="178.0" y="364.8" width="21.5" height="3.2" rx="1.6" fill="#0a0a0a" opacity="1" filter="url(#bl)"/>
<rect x="200.5" y="364.3" width="21.3" height="4.2" rx="2.1" fill="#0a0a0a" opacity="1" filter="url(#bl)"/>
<text x="143.2" y="321.5" font-size="5.3" fill="#222" text-anchor="middle">1</text>
<text x="159.7" y="321.5" font-size="5.3" textLength="10.6" lengthAdjust="spacingAndGlyphs" fill="#222">1.03</text>
<text x="186.8" y="321.5" font-size="5.3" fill="#222" text-anchor="middle">1</text>
<text x="203.5" y="321.5" font-size="5.3" textLength="10.6" lengthAdjust="spacingAndGlyphs" fill="#222">1.03</text>
<text x="143.2" y="340.0" font-size="5.3" fill="#222" text-anchor="middle">1</text>
<text x="159.7" y="340.0" font-size="5.3" textLength="10.6" lengthAdjust="spacingAndGlyphs" fill="#222">0.97</text>
<text x="186.8" y="340.0" font-size="5.3" fill="#222" text-anchor="middle">1</text>
<text x="203.5" y="340.0" font-size="5.3" textLength="10.6" lengthAdjust="spacingAndGlyphs" fill="#222">0.95</text>
<text x="143.2" y="358.0" font-size="5.3" fill="#222" text-anchor="middle">1</text>
<text x="159.7" y="358.0" font-size="5.3" textLength="10.6" lengthAdjust="spacingAndGlyphs" fill="#222">0.15</text>
<text x="186.8" y="358.0" font-size="5.3" fill="#222" text-anchor="middle">1</text>
<text x="203.5" y="358.0" font-size="5.3" textLength="10.6" lengthAdjust="spacingAndGlyphs" fill="#222">0.12</text>
<text x="143.2" y="378.0" font-size="5.3" fill="#222" text-anchor="middle">1</text>
<text x="159.7" y="378.0" font-size="5.3" textLength="10.6" lengthAdjust="spacingAndGlyphs" fill="#222">1.15</text>
<text x="186.8" y="378.0" font-size="5.3" fill="#222" text-anchor="middle">1</text>
<text x="203.5" y="378.0" font-size="5.3" textLength="10.6" lengthAdjust="spacingAndGlyphs" fill="#222">1.13</text>
<line x1="132.0" y1="383.0" x2="224.2" y2="383.0" stroke="#111" stroke-width="1.1"/>
<text x="168.8" y="392.5" font-size="8" textLength="18.7" lengthAdjust="spacingAndGlyphs">Input</text>
<rect x="233.8" y="307.8" width="95.0" height="8.7" fill="#b2b2b2"/>
<rect x="233.8" y="307.8" width="95.0" height="1.6" fill="#a4a4a4" opacity="0.7"/>
<rect x="236.0" y="310.2" width="19.5" height="2.3" rx="1.1" fill="#1e1e1e" opacity="1" filter="url(#bl)"/>
<rect x="261.5" y="311.6" width="16.0" height="1.6" rx="0.8" fill="#555" opacity="0.75" filter="url(#bl)"/>
<rect x="283.8" y="310.5" width="14.2" height="2.3" rx="1.1" fill="#1e1e1e" opacity="1" filter="url(#bl)"/>
<rect x="295.0" y="312.1" width="7.0" height="1.8" rx="0.9" fill="#2a2a2a" opacity="0.8" filter="url(#bl)"/>
<rect x="308.8" y="311.5" width="15.0" height="1.8" rx="0.9" fill="#444" opacity="0.85" filter="url(#bl)"/>
<rect x="233.8" y="326.2" width="95.0" height="8.3" fill="#a4a4a4"/>
<rect x="304.0" y="326.2" width="24.8" height="8.3" fill="#9a9a9a" opacity="0.7"/>
<rect x="235.0" y="329.2" width="19.0" height="2.9" rx="1.4" fill="#1c1c1c" opacity="1" filter="url(#bl)"/>
<rect x="261.0" y="329.5" width="16.0" height="2.6" rx="1.3" fill="#555" opacity="0.7" filter="url(#bl)"/>
<rect x="283.8" y="328.8" width="18.2" height="3.2" rx="1.6" fill="#181818" opacity="1" filter="url(#bl)"/>
<rect x="309.0" y="329.8" width="13.0" height="1.6" rx="0.8" fill="#777" opacity="0.35" filter="url(#bl)"/>
<rect x="233.2" y="344.2" width="95.6" height="9.6" fill="#e6e6e6"/>
<rect x="236.2" y="347.9" width="19.3" height="3.0" rx="1.5" fill="#101010" opacity="1" filter="url(#bl)"/>
<rect x="284.4" y="346.7" width="19.6" height="3.9" rx="1.9" fill="#0e0e0e" opacity="1" filter="url(#bl)"/>
<rect x="281.5" y="347.0" width="4.5" height="1.6" rx="0.8" fill="#555" opacity="0.6" filter="url(#bl)"/>
<rect x="260.0" y="348.9" width="16.0" height="1.4" rx="0.7" fill="#999" opacity="0.5" filter="url(#bl)"/>
<rect x="307.0" y="347.9" width="15.0" height="1.4" rx="0.7" fill="#aaa" opacity="0.5" filter="url(#bl)"/>
<text x="244.2" y="321.5" font-size="5.3" fill="#222" text-anchor="middle">1</text>
<text x="265.2" y="321.5" font-size="5.3" textLength="10.6" lengthAdjust="spacingAndGlyphs" fill="#222">0.28</text>
<text x="293.0" y="321.5" font-size="5.3" fill="#222" text-anchor="middle">1</text>
<text x="310.9" y="321.5" font-size="5.3" textLength="10.6" lengthAdjust="spacingAndGlyphs" fill="#222">0.34</text>
<text x="244.2" y="340.0" font-size="5.3" fill="#222" text-anchor="middle">1</text>
<text x="265.2" y="340.0" font-size="5.3" textLength="10.6" lengthAdjust="spacingAndGlyphs" fill="#222">0.33</text>
<text x="293.0" y="340.0" font-size="5.3" fill="#222" text-anchor="middle">1</text>
<text x="310.9" y="340.0" font-size="5.3" textLength="10.6" lengthAdjust="spacingAndGlyphs" fill="#222">0.11</text>
<text x="246.2" y="358.0" font-size="5.3" fill="#222" text-anchor="middle">1</text>
<text x="279.2" y="358.0" font-size="5.3" textLength="10.6" lengthAdjust="spacingAndGlyphs" fill="#222">0.17</text>
<text x="322.0" y="358.0" font-size="5.3" fill="#222" text-anchor="middle">1</text>
<line x1="235.8" y1="382.6" x2="327.5" y2="382.6" stroke="#111" stroke-width="1.1"/>
<text x="278.2" y="392.5" font-size="8.4" textLength="6.8" lengthAdjust="spacingAndGlyphs">IP</text>
<defs><linearGradient id="ig1" x1="0" x2="1" y1="0" y2="0"><stop offset="0" stop-color="#929292"/><stop offset="0.3" stop-color="#8c8c8c"/><stop offset="0.7" stop-color="#858585"/><stop offset="1" stop-color="#929292"/></linearGradient>
<linearGradient id="ig2" x1="0" x2="1" y1="0" y2="0"><stop offset="0" stop-color="#8a8a8a"/><stop offset="0.04" stop-color="#a4a4a4"/><stop offset="0.5" stop-color="#9e9e9e"/><stop offset="0.8" stop-color="#9a9a9a"/><stop offset="0.92" stop-color="#7c7c7c"/><stop offset="1" stop-color="#929292"/></linearGradient></defs>
<rect x="335.8" y="307.8" width="91.2" height="8.7" fill="url(#ig1)"/>
<rect x="335.8" y="325.8" width="91.2" height="8.7" fill="url(#ig2)"/>
<rect x="335.8" y="344.2" width="91.2" height="9.6" fill="#d4d4d4"/>
<text x="356.5" y="358.0" font-size="5.3" textLength="10.6" lengthAdjust="spacingAndGlyphs" fill="#222">0.09</text>
<line x1="335.8" y1="382.6" x2="427.5" y2="382.6" stroke="#111" stroke-width="1.1"/>
<text x="375.0" y="392.5" font-size="8.4" textLength="13.2" lengthAdjust="spacingAndGlyphs">IgG</text>
<text x="7.6" y="411.2" font-size="12.1" textLength="6.6" lengthAdjust="spacingAndGlyphs" fill="#000" font-weight="bold" stroke="#000" stroke-width="0.3">F</text>
<text x="25.4" y="433.0" font-size="8.4" textLength="48.9" lengthAdjust="spacingAndGlyphs">WTAP mRNA</text>
<text x="139.3" y="433.0" font-size="8.4" textLength="49.2" lengthAdjust="spacingAndGlyphs">piRNA-30473</text>
<rect x="24.7" y="438.0" width="179.9" height="5.8" fill="#fff"/>
<rect x="24.7" y="438.0" width="18.0" height="5.8" fill="#aaa"/>
<rect x="160.3" y="438.0" width="44.3" height="5.8" fill="#aaa"/>
<rect x="163.6" y="438.0" width="3.6" height="5.8" fill="#b5122f"/>
<rect x="24.7" y="438" width="179.9" height="5.8" fill="none" stroke="#111" stroke-width="0.8"/>
<line x1="42.7" y1="438.0" x2="42.7" y2="443.8" stroke="#111" stroke-width="0.7"/>
<line x1="160.3" y1="438.0" x2="160.3" y2="443.8" stroke="#111" stroke-width="0.7"/>
<text x="24.7" y="452.6" font-size="8.4" textLength="23.8" lengthAdjust="spacingAndGlyphs">5′ UTR</text>
<text x="103.2" y="452.6" font-size="8.4" textLength="15.7" lengthAdjust="spacingAndGlyphs">CDS</text>
<text x="179.2" y="452.6" font-size="8.4" textLength="23.8" lengthAdjust="spacingAndGlyphs">3′ UTR</text>
<line x1="162.3" y1="443.8" x2="89.2" y2="473.8" stroke="#111" stroke-width="0.8"/>
<line x1="166.8" y1="443.8" x2="194.5" y2="473.2" stroke="#111" stroke-width="0.8"/>
<text x="19.5" y="483.1" font-size="8.4" textLength="48.0" lengthAdjust="spacingAndGlyphs">WTAP 3′ UTR</text>
<text x="18.5" y="503.8" font-size="8.4" textLength="48.6" lengthAdjust="spacingAndGlyphs">piRNA-30473</text>
<text x="75.6" y="483.1" font-size="8.4" textLength="6.3" lengthAdjust="spacingAndGlyphs">5′</text>
<text x="84.2" y="483.1" font-size="8.4" textLength="4.2" lengthAdjust="spacingAndGlyphs">T</text>
<text x="88.5" y="483.1" font-size="8.4" textLength="41.4" lengthAdjust="spacingAndGlyphs" fill="#b5122f">TCAAAGTT</text>
<text x="130.2" y="483.1" font-size="8.4" textLength="16.5" lengthAdjust="spacingAndGlyphs">ATG</text>
<text x="147.0" y="483.1" font-size="8.4" textLength="54.3" lengthAdjust="spacingAndGlyphs" fill="#b5122f">GCAAGAGATG</text>
<text x="201.5" y="483.1" font-size="8.4" textLength="5.1" lengthAdjust="spacingAndGlyphs">A</text>
<text x="209.4" y="483.1" font-size="8.4" textLength="6.3" lengthAdjust="spacingAndGlyphs">3′</text>
<text x="73.5" y="503.8" font-size="8.4" textLength="6.3" lengthAdjust="spacingAndGlyphs">3′</text>
<text x="81.1" y="503.8" font-size="8.4" textLength="4.7" lengthAdjust="spacingAndGlyphs">C</text>
<text x="86.0" y="503.8" font-size="8.4" textLength="44.1" lengthAdjust="spacingAndGlyphs" fill="#b5122f">AGGTACAA</text>
<text x="133.0" y="503.8" font-size="8.4" textLength="10.4" lengthAdjust="spacingAndGlyphs">- - -</text>
<text x="146.4" y="503.8" font-size="8.4" textLength="54.9" lengthAdjust="spacingAndGlyphs" fill="#b5122f">CGTCCTCTAC</text>
<text x="201.5" y="503.8" font-size="8.4" textLength="5.1" lengthAdjust="spacingAndGlyphs">A</text>
<text x="209.4" y="503.8" font-size="8.4" textLength="6.3" lengthAdjust="spacingAndGlyphs">5′</text>
<line x1="90.8" y1="488.3" x2="90.8" y2="494.4" stroke="#111" stroke-width="1"/>
<line x1="94.9" y1="488.3" x2="94.9" y2="494.4" stroke="#111" stroke-width="1"/>
<line x1="106.5" y1="488.3" x2="106.5" y2="494.4" stroke="#111" stroke-width="1"/>
<line x1="118.1" y1="488.3" x2="118.1" y2="494.4" stroke="#111" stroke-width="1"/>
<line x1="123.0" y1="488.3" x2="123.0" y2="494.4" stroke="#111" stroke-width="1"/>
<line x1="128.2" y1="488.3" x2="128.2" y2="494.4" stroke="#111" stroke-width="1"/>
<line x1="148.9" y1="488.3" x2="148.9" y2="494.4" stroke="#111" stroke-width="1"/>
<line x1="154.8" y1="488.3" x2="154.8" y2="494.4" stroke="#111" stroke-width="1"/>
<line x1="160.5" y1="488.3" x2="160.5" y2="494.4" stroke="#111" stroke-width="1"/>
<line x1="171.3" y1="488.3" x2="171.3" y2="494.4" stroke="#111" stroke-width="1"/>
<line x1="176.6" y1="488.3" x2="176.6" y2="494.4" stroke="#111" stroke-width="1"/>
<line x1="181.9" y1="488.3" x2="181.9" y2="494.4" stroke="#111" stroke-width="1"/>
<line x1="187.2" y1="488.3" x2="187.2" y2="494.4" stroke="#111" stroke-width="1"/>
<line x1="192.5" y1="488.3" x2="192.5" y2="494.4" stroke="#111" stroke-width="1"/>
<line x1="197.8" y1="488.3" x2="197.8" y2="494.4" stroke="#111" stroke-width="1"/>
<text x="223.8" y="411.5" font-size="12.1" textLength="8.2" lengthAdjust="spacingAndGlyphs" fill="#000" font-weight="bold" stroke="#000" stroke-width="0.3">G</text>
<text x="283.8" y="412.0" font-size="9" textLength="43.7" lengthAdjust="spacingAndGlyphs">SU-DHL-8</text>
<line x1="275.8" y1="423.0" x2="278.8" y2="423.0" stroke="#000" stroke-width="1.1"/>
<text x="261.8" y="426.0" font-size="8.6" textLength="11.4" lengthAdjust="spacingAndGlyphs">1.5</text>
<line x1="275.8" y1="455.5" x2="278.8" y2="455.5" stroke="#000" stroke-width="1.1"/>
<text x="261.8" y="458.5" font-size="8.6" textLength="11.4" lengthAdjust="spacingAndGlyphs">1.0</text>
<line x1="275.8" y1="487.5" x2="278.8" y2="487.5" stroke="#000" stroke-width="1.1"/>
<text x="261.8" y="490.5" font-size="8.6" textLength="11.4" lengthAdjust="spacingAndGlyphs">0.5</text>
<line x1="275.8" y1="520.0" x2="278.8" y2="520.0" stroke="#000" stroke-width="1.1"/>
<text x="261.8" y="523.0" font-size="8.6" textLength="11.4" lengthAdjust="spacingAndGlyphs">0.0</text>
<line x1="291.2" y1="520.0" x2="291.2" y2="522.6" stroke="#000" stroke-width="1"/>
<line x1="318.8" y1="520.0" x2="318.8" y2="522.6" stroke="#000" stroke-width="1"/>
<rect x="283.8" y="420.8" width="8.2" height="3.4" fill="#a50028"/>
<rect x="283.8" y="432.0" width="8.2" height="3.5" fill="#2d4b7d"/>
<text x="295.5" y="425.2" font-size="7.6" textLength="48.3" lengthAdjust="spacingAndGlyphs">antagomir-NC</text>
<text x="295.5" y="436.0" font-size="7.6" textLength="58.3" lengthAdjust="spacingAndGlyphs">antagomir-30473</text>
<rect x="283.0" y="455.5" width="6.6" height="64.5" fill="#a50028"/>
<rect x="293.2" y="485.0" width="6.8" height="35.0" fill="#2d4b7d"/>
<rect x="310.8" y="455.5" width="6.7" height="64.5" fill="#a50028"/>
<rect x="320.8" y="461.2" width="6.7" height="58.8" fill="#2d4b7d"/>
<line x1="296.6" y1="481.2" x2="296.6" y2="485.0" stroke="#121826" stroke-width="1"/>
<line x1="294.5" y1="481.2" x2="298.7" y2="481.2" stroke="#121826" stroke-width="1"/>
<line x1="324.2" y1="454.5" x2="324.2" y2="461.2" stroke="#121826" stroke-width="1"/>
<line x1="322.1" y1="454.5" x2="326.3" y2="454.5" stroke="#121826" stroke-width="1"/>
<text x="286.6" y="451.2" font-size="8" textLength="9.5" lengthAdjust="spacingAndGlyphs">***</text>
<line x1="285.0" y1="452.0" x2="298.0" y2="452.0" stroke="#000" stroke-width="0.9"/>
<text x="316.1" y="447.6" font-size="7.2" textLength="7.4" lengthAdjust="spacingAndGlyphs">ns</text>
<line x1="313.8" y1="450.8" x2="326.2" y2="450.8" stroke="#000" stroke-width="0.9"/>
<text x="285.0" y="533.0" font-size="7.8" textLength="12.5" lengthAdjust="spacingAndGlyphs">WT</text>
<text x="310.8" y="533.0" font-size="7.8" textLength="16.7" lengthAdjust="spacingAndGlyphs">MUT</text>
<text transform="translate(256.6,513.6) rotate(-90)" font-size="10" textLength="87.6" lengthAdjust="spacingAndGlyphs">Relative luciferase activity</text>
<line x1="278.8" y1="422.0" x2="278.8" y2="520.6" stroke="#000" stroke-width="1.3"/>
<line x1="275.8" y1="520.0" x2="331.2" y2="520.0" stroke="#000" stroke-width="1.3"/>
<text x="7.9" y="548.8" font-size="12.1" textLength="7.7" lengthAdjust="spacingAndGlyphs" fill="#000" font-weight="bold" stroke="#000" stroke-width="0.3">H</text>
<rect x="60.3" y="554.5" width="105.1" height="92.3" fill="none" stroke="#111" stroke-width="1.5"/>
<text x="35.4" y="559.0" font-size="8.7" textLength="20.0" lengthAdjust="spacingAndGlyphs">1.000</text>
<text x="35.4" y="589.0" font-size="8.7" textLength="20.0" lengthAdjust="spacingAndGlyphs">0.500</text>
<text x="35.4" y="618.8" font-size="8.7" textLength="20.0" lengthAdjust="spacingAndGlyphs">0.250</text>
<text x="35.4" y="648.8" font-size="8.7" textLength="20.0" lengthAdjust="spacingAndGlyphs">0.125</text>
<text x="60.5" y="657.0" font-size="8.7" textLength="4.5" lengthAdjust="spacingAndGlyphs">0</text>
<text x="82.9" y="657.0" font-size="8.7" textLength="9.0" lengthAdjust="spacingAndGlyphs">12</text>
<text x="110.6" y="657.0" font-size="8.7" textLength="9.0" lengthAdjust="spacingAndGlyphs">24</text>
<text x="135.5" y="657.0" font-size="8.7" textLength="9.0" lengthAdjust="spacingAndGlyphs">36</text>
<text x="160.2" y="657.0" font-size="8.7" textLength="9.0" lengthAdjust="spacingAndGlyphs">48</text>
<text x="95.5" y="564.7" font-size="8" textLength="35.7" lengthAdjust="spacingAndGlyphs">SU-DHL-8</text>
<line x1="60.5" y1="554.8" x2="137.2" y2="605.0" stroke="#5b9bd5" stroke-width="1.2" stroke-dasharray="1.1 0.8"/>
<line x1="60.5" y1="554.8" x2="136.5" y2="612.4" stroke="#e08a1e" stroke-width="1.2" stroke-dasharray="1.1 0.8"/>
<line x1="60.5" y1="554.8" x2="136.5" y2="624.6" stroke="#44546a" stroke-width="1.2" stroke-dasharray="1.1 0.8"/>
<circle cx="86.5" cy="563.5" r="0.9" fill="#5b9bd5"/>
<circle cx="86.5" cy="567.7" r="0.9" fill="#e08a1e"/>
<circle cx="86.5" cy="570.0" r="0.9" fill="#44546a"/>
<circle cx="112.6" cy="576.5" r="0.9" fill="#5b9bd5"/>
<circle cx="112.6" cy="591.2" r="0.9" fill="#e08a1e"/>
<circle cx="112.6" cy="599.5" r="0.9" fill="#44546a"/>
<circle cx="138.9" cy="617.2" r="0.9" fill="#5b9bd5"/>
<circle cx="138.9" cy="620.0" r="0.9" fill="#e08a1e"/>
<circle cx="138.9" cy="633.4" r="0.9" fill="#44546a"/>
<text x="129.6" y="591.2" font-size="5.6" fill="#5b9bd5" textLength="27.0" lengthAdjust="spacingAndGlyphs">y = e<tspan dy="-1.9" font-size="3.6">-0.032x</tspan></text>
<text x="129.6" y="598.2" font-size="5.6" fill="#5b9bd5" textLength="28.2" lengthAdjust="spacingAndGlyphs">R<tspan dy="-1.9" font-size="3.6">2</tspan><tspan dy="1.9"> = 0.8529</tspan></text>
<text x="135.0" y="609.4" font-size="5.6" fill="#e08a1e" textLength="27.4" lengthAdjust="spacingAndGlyphs">y = e<tspan dy="-1.9" font-size="3.6">-0.038x</tspan></text>
<text x="134.2" y="618.2" font-size="5.6" fill="#e08a1e" textLength="28.8" lengthAdjust="spacingAndGlyphs">R<tspan dy="-1.9" font-size="3.6">2</tspan><tspan dy="1.9"> = 0.9643</tspan></text>
<text x="129.2" y="628.8" font-size="5.6" fill="#44546a" textLength="27.4" lengthAdjust="spacingAndGlyphs">y = e<tspan dy="-1.9" font-size="3.6">-0.046x</tspan></text>
<text x="129.2" y="638.5" font-size="5.6" fill="#44546a" textLength="28.1" lengthAdjust="spacingAndGlyphs">R<tspan dy="-1.9" font-size="3.6">2</tspan><tspan dy="1.9"> = 0.9651</tspan></text>
<text x="65.0" y="623.0" font-size="5.6" fill="#5b9bd5" textLength="23.8" lengthAdjust="spacingAndGlyphs">t<tspan dy="1.2" font-size="3">1/2</tspan><tspan dy="-1.2">=21.66</tspan></text>
<text x="65.0" y="632.6" font-size="5.6" fill="#e08a1e" textLength="23.8" lengthAdjust="spacingAndGlyphs">t<tspan dy="1.2" font-size="3">1/2</tspan><tspan dy="-1.2">=18.24</tspan></text>
<text x="65.0" y="641.8" font-size="5.6" fill="#44546a" textLength="23.8" lengthAdjust="spacingAndGlyphs">t<tspan dy="1.2" font-size="3">1/2</tspan><tspan dy="-1.2">=15.07</tspan></text>
<text transform="translate(28.6,632.0) rotate(-90)" font-size="10.3" textLength="58.0" lengthAdjust="spacingAndGlyphs">mRNA remaining</text>
<text x="91.5" y="669.8" font-size="10.3" textLength="42.5" lengthAdjust="spacingAndGlyphs">Time (hours)</text>
<rect x="222.2" y="554.5" width="104.7" height="92.3" fill="none" stroke="#111" stroke-width="1.5"/>
<text x="197.6" y="556.8" font-size="8.7" textLength="20.0" lengthAdjust="spacingAndGlyphs">1.000</text>
<text x="197.6" y="592.0" font-size="8.7" textLength="20.0" lengthAdjust="spacingAndGlyphs">0.500</text>
<text x="197.6" y="621.5" font-size="8.7" textLength="20.0" lengthAdjust="spacingAndGlyphs">0.250</text>
<text x="197.6" y="651.0" font-size="8.7" textLength="20.0" lengthAdjust="spacingAndGlyphs">0.125</text>
<text x="223.4" y="656.8" font-size="8.7" textLength="4.5" lengthAdjust="spacingAndGlyphs">0</text>
<text x="244.3" y="656.8" font-size="8.7" textLength="9.0" lengthAdjust="spacingAndGlyphs">12</text>
<text x="272.7" y="656.8" font-size="8.7" textLength="9.0" lengthAdjust="spacingAndGlyphs">24</text>
<text x="298.1" y="656.8" font-size="8.7" textLength="9.0" lengthAdjust="spacingAndGlyphs">36</text>
<text x="322.4" y="656.8" font-size="8.7" textLength="9.0" lengthAdjust="spacingAndGlyphs">48</text>
<text x="263.4" y="564.2" font-size="8" textLength="25.1" lengthAdjust="spacingAndGlyphs">Farage</text>
<line x1="222.5" y1="554.8" x2="298.0" y2="599.5" stroke="#e08a1e" stroke-width="1.2" stroke-dasharray="1.1 0.8"/>
<line x1="222.5" y1="554.8" x2="299.6" y2="615.0" stroke="#5b9bd5" stroke-width="1.2" stroke-dasharray="1.1 0.8"/>
<line x1="222.5" y1="554.8" x2="299.6" y2="632.7" stroke="#44546a" stroke-width="1.2" stroke-dasharray="1.1 0.8"/>
<circle cx="248.5" cy="568.2" r="0.9" fill="#e08a1e"/>
<circle cx="248.5" cy="569.6" r="0.9" fill="#5b9bd5"/>
<circle cx="248.5" cy="574.6" r="0.9" fill="#44546a"/>
<circle cx="274.2" cy="586.8" r="0.9" fill="#5b9bd5"/>
<circle cx="274.2" cy="593.8" r="0.9" fill="#e08a1e"/>
<circle cx="274.2" cy="605.8" r="0.9" fill="#44546a"/>
<circle cx="300.3" cy="597.0" r="0.9" fill="#e08a1e"/>
<circle cx="300.3" cy="627.6" r="0.9" fill="#5b9bd5"/>
<circle cx="300.3" cy="640.8" r="0.9" fill="#44546a"/>
<text x="292.2" y="585.0" font-size="5.6" fill="#e08a1e" textLength="27.0" lengthAdjust="spacingAndGlyphs">y = e<tspan dy="-1.9" font-size="3.6">-0.065x</tspan></text>
<text x="292.2" y="592.4" font-size="5.6" fill="#e08a1e" textLength="28.2" lengthAdjust="spacingAndGlyphs">R<tspan dy="-1.9" font-size="3.6">2</tspan><tspan dy="1.9"> = 0.9229</tspan></text>
<text x="295.5" y="607.2" font-size="5.6" fill="#5b9bd5" textLength="24.5" lengthAdjust="spacingAndGlyphs">y = e<tspan dy="-1.9" font-size="3.6">-0.08x</tspan></text>
<text x="295.5" y="615.0" font-size="5.6" fill="#5b9bd5" textLength="28.8" lengthAdjust="spacingAndGlyphs">R<tspan dy="-1.9" font-size="3.6">2</tspan><tspan dy="1.9"> = 0.9186</tspan></text>
<text x="295.5" y="624.6" font-size="5.6" fill="#44546a" textLength="27.2" lengthAdjust="spacingAndGlyphs">y = e<tspan dy="-1.9" font-size="3.6">-0.102x</tspan></text>
<text x="295.5" y="635.0" font-size="5.6" fill="#44546a" textLength="28.8" lengthAdjust="spacingAndGlyphs">R<tspan dy="-1.9" font-size="3.6">2</tspan><tspan dy="1.9"> = 0.9805</tspan></text>
<text x="229.0" y="622.0" font-size="5.6" fill="#e08a1e" textLength="23.7" lengthAdjust="spacingAndGlyphs">t<tspan dy="1.2" font-size="3">1/2</tspan><tspan dy="-1.2">=11.95</tspan></text>
<text x="229.0" y="631.8" font-size="5.6" fill="#5b9bd5" textLength="20.2" lengthAdjust="spacingAndGlyphs">t<tspan dy="1.2" font-size="3">1/2</tspan><tspan dy="-1.2">=8.66</tspan></text>
<text x="229.0" y="641.0" font-size="5.6" fill="#44546a" textLength="20.2" lengthAdjust="spacingAndGlyphs">t<tspan dy="1.2" font-size="3">1/2</tspan><tspan dy="-1.2">=6.80</tspan></text>
<text transform="translate(190.8,631.5) rotate(-90)" font-size="10.3" textLength="58.0" lengthAdjust="spacingAndGlyphs">mRNA remaining</text>
<text x="253.8" y="669.8" font-size="10.3" textLength="42.8" lengthAdjust="spacingAndGlyphs">Time (hours)</text>
<line x1="346.7" y1="589.0" x2="364.2" y2="589.0" stroke="#5b9bd5" stroke-width="1.2" stroke-dasharray="1.1 0.8"/>
<line x1="346.7" y1="601.1" x2="364.2" y2="601.1" stroke="#e08a1e" stroke-width="1.2" stroke-dasharray="1.1 0.8"/>
<line x1="346.7" y1="612.7" x2="364.2" y2="612.7" stroke="#44546a" stroke-width="1.2" stroke-dasharray="1.1 0.8"/>
<text x="366.4" y="591.2" font-size="7" textLength="91.3" lengthAdjust="spacingAndGlyphs">antagomir-NC+α-Amanitin</text>
<text x="366.4" y="603.0" font-size="7" textLength="58.4" lengthAdjust="spacingAndGlyphs">antagomir-30473</text>
<text x="366.4" y="614.6" font-size="7" textLength="101.5" lengthAdjust="spacingAndGlyphs">antagomir-30473+α-Amanitin</text>
</svg>
</body></html>
